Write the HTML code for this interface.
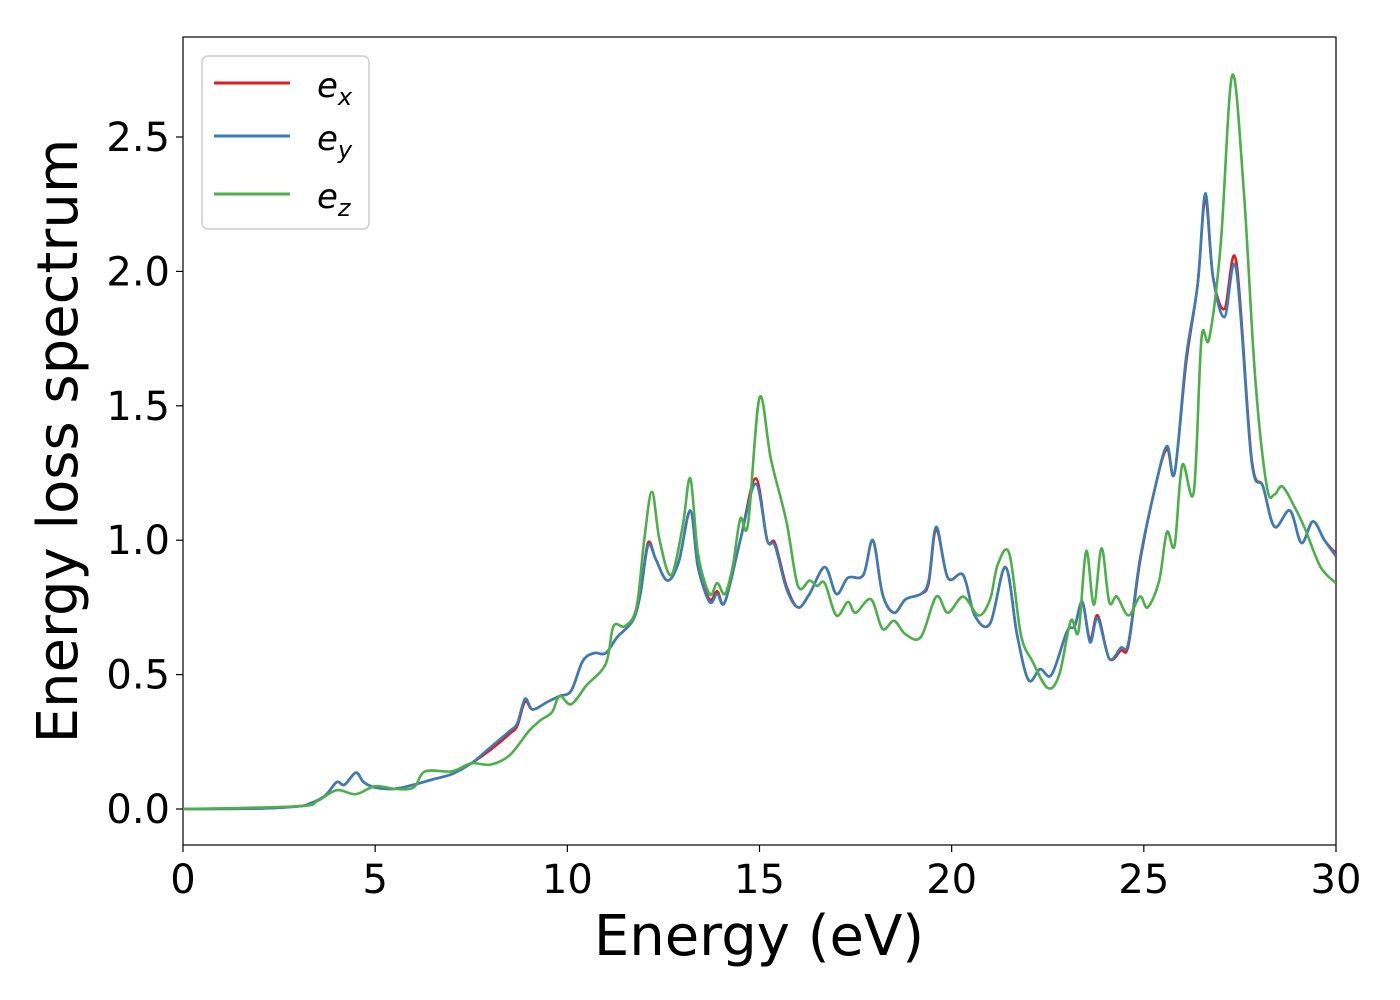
<!DOCTYPE html>
<html><head><meta charset="utf-8"><style>
html,body{margin:0;padding:0;background:#fff;width:1400px;height:1000px;overflow:hidden}
svg{display:block;font-family:"DejaVu Sans","Liberation Sans",sans-serif}
</style></head><body>
<svg id="chart" width="1400" height="1000" xmlns="http://www.w3.org/2000/svg">
<rect x="183" y="37" width="1153" height="808" fill="#fff" stroke="#000" stroke-width="1.2"/>
<g id="series"></g>
<g id="axes"></g>
<text x="759" y="955" font-size="56" text-anchor="middle">Energy (eV)</text>
<text transform="translate(77,441) rotate(-90)" font-size="56" text-anchor="middle">Energy loss spectrum</text>
<g>
<rect x="202" y="56" width="167" height="173" rx="6" fill="#fff" stroke="#ccc" stroke-width="1.5"/>
<line x1="214" y1="83" x2="290" y2="83" stroke="#e41a1c" stroke-width="3"/>
<line x1="214" y1="136" x2="290" y2="136" stroke="#377eb8" stroke-width="3"/>
<line x1="214" y1="194" x2="290" y2="194" stroke="#4daf4a" stroke-width="3"/>
<text x="317" y="97" font-size="34" font-style="italic">e<tspan font-size="24" dy="8">x</tspan></text>
<text x="317" y="150" font-size="34" font-style="italic">e<tspan font-size="24" dy="8">y</tspan></text>
<text x="317" y="208" font-size="34" font-style="italic">e<tspan font-size="24" dy="8">z</tspan></text>
</g>
</svg>
<script>
const xTicks=[0,5,10,15,20,25,30];
const yTicks=[0.0,0.5,1.0,1.5,2.0,2.5];
const eyE=[0,2,3,3.3,3.7,4.0,4.2,4.5,4.7,5,5.5,6,6.5,7,7.5,8,8.5,8.7,8.9,9.1,9.5,9.8,10.1,10.4,10.7,11,11.3,11.7,11.9,12.1,12.3,12.6,12.9,13.2,13.4,13.7,13.9,14.1,14.5,14.9,15.2,15.4,15.7,16.0,16.3,16.7,17.0,17.3,17.7,17.95,18.2,18.5,18.8,19.2,19.4,19.6,19.9,20.3,20.6,21.0,21.4,21.7,22.0,22.3,22.6,23.0,23.2,23.4,23.6,23.8,24.1,24.4,24.6,24.9,25.3,25.6,25.8,26.1,26.4,26.6,26.8,27.1,27.4,27.8,28.1,28.4,28.8,29.1,29.4,29.7,30];
const eyV=[0,0.002,0.01,0.02,0.05,0.1,0.09,0.135,0.1,0.08,0.075,0.09,0.11,0.13,0.17,0.23,0.29,0.32,0.41,0.37,0.4,0.42,0.44,0.55,0.58,0.58,0.64,0.7,0.8,0.98,0.93,0.85,0.92,1.11,0.9,0.77,0.8,0.77,1.0,1.21,1.0,0.98,0.82,0.75,0.8,0.9,0.8,0.86,0.87,1.0,0.8,0.73,0.78,0.8,0.85,1.05,0.86,0.87,0.72,0.69,0.9,0.65,0.48,0.52,0.5,0.66,0.68,0.77,0.62,0.71,0.56,0.6,0.62,0.93,1.2,1.35,1.25,1.68,1.95,2.29,1.98,1.83,2.01,1.3,1.2,1.05,1.11,0.99,1.07,1.0,0.94];
const exV=[0,0.002,0.01,0.02,0.05,0.1,0.09,0.135,0.1,0.08,0.075,0.09,0.11,0.13,0.17,0.22,0.28,0.31,0.4,0.37,0.4,0.42,0.44,0.55,0.58,0.58,0.64,0.7,0.8,0.99,0.93,0.85,0.92,1.11,0.9,0.78,0.81,0.77,1.0,1.23,1.0,0.99,0.83,0.75,0.8,0.9,0.8,0.86,0.87,1.0,0.8,0.73,0.78,0.8,0.84,1.04,0.86,0.87,0.72,0.69,0.9,0.65,0.48,0.52,0.5,0.66,0.68,0.77,0.63,0.72,0.56,0.59,0.61,0.92,1.2,1.34,1.25,1.66,1.95,2.27,1.98,1.86,2.04,1.31,1.2,1.05,1.11,0.99,1.07,1.0,0.95];
const ezE=[0,3,3.5,4,4.5,5,5.5,6,6.3,7,7.5,8,8.5,9,9.3,9.6,9.8,10.1,10.5,11,11.2,11.5,11.8,12.0,12.2,12.4,12.7,13.0,13.2,13.4,13.7,13.9,14.1,14.3,14.5,14.7,15.0,15.3,15.7,16.0,16.3,16.5,16.7,17.0,17.3,17.5,17.9,18.2,18.5,18.8,19.2,19.6,19.9,20.3,20.7,21.0,21.2,21.5,21.8,22.1,22.5,22.8,23.1,23.3,23.5,23.7,23.9,24.1,24.3,24.6,24.9,25.1,25.4,25.6,25.8,26.0,26.3,26.5,26.7,27.0,27.3,27.6,27.9,28.2,28.4,28.6,28.9,29.2,29.6,30];
const ezV=[0,0.01,0.03,0.07,0.055,0.085,0.075,0.08,0.14,0.14,0.17,0.165,0.2,0.29,0.33,0.36,0.42,0.39,0.46,0.54,0.68,0.68,0.75,1.0,1.18,1.0,0.87,1.05,1.23,0.95,0.8,0.84,0.8,0.9,1.08,1.06,1.53,1.3,1.07,0.83,0.85,0.83,0.84,0.72,0.77,0.73,0.78,0.67,0.7,0.65,0.64,0.79,0.73,0.79,0.72,0.78,0.91,0.95,0.65,0.55,0.45,0.5,0.7,0.66,0.96,0.76,0.97,0.77,0.79,0.72,0.79,0.75,0.85,1.03,0.98,1.28,1.18,1.75,1.75,2.1,2.73,2.3,1.6,1.2,1.17,1.2,1.13,1.04,0.9,0.84];

const NS="http://www.w3.org/2000/svg";
const X0=183,X1=1336,Y0=809,Y25=137;
function sx(v){return X0+(v/30)*(X1-X0);}
function sy(v){return Y0-(v/2.5)*(Y0-Y25);}
function pathFor(xs,ys){
  const p=xs.map((x,i)=>[sx(x),sy(ys[i])]);
  let d="M"+p[0][0].toFixed(1)+","+p[0][1].toFixed(1);
  for(let i=0;i<p.length-1;i++){
    const a=p[Math.max(0,i-1)],b=p[i],c=p[i+1],e=p[Math.min(p.length-1,i+2)];
    const c1=[b[0]+(c[0]-a[0])/6,b[1]+(c[1]-a[1])/6],c2=[c[0]-(e[0]-b[0])/6,c[1]-(e[1]-b[1])/6];
    d+=" C"+c1[0].toFixed(1)+","+c1[1].toFixed(1)+" "+c2[0].toFixed(1)+","+c2[1].toFixed(1)+" "+c[0].toFixed(1)+","+c[1].toFixed(1);
  }
  return d;
}
const sg=document.getElementById('series');
const defs=document.createElementNS(NS,'clipPath');defs.setAttribute('id','clip');
const cr=document.createElementNS(NS,'rect');cr.setAttribute('x',183);cr.setAttribute('y',37);cr.setAttribute('width',1153);cr.setAttribute('height',808);
defs.appendChild(cr);document.getElementById('chart').appendChild(defs);
sg.setAttribute('clip-path','url(#clip)');
[[eyE,exV,'#e41a1c','series-ex'],[eyE,eyV,'#377eb8','series-ey'],[ezE,ezV,'#4daf4a','series-ez']].forEach(s=>{
  const p=document.createElementNS(NS,'path');
  p.setAttribute('d',pathFor(s[0],s[1]));
  p.setAttribute('fill','none');p.setAttribute('stroke',s[2]);p.setAttribute('stroke-width','2.6');
  
  
  sg.appendChild(p);
});
const ag=document.getElementById('axes');
xTicks.forEach(t=>{
  const l=document.createElementNS(NS,'line');
  l.setAttribute('x1',sx(t));l.setAttribute('x2',sx(t));l.setAttribute('y1',845);l.setAttribute('y2',852);l.setAttribute('stroke','#000');l.setAttribute('stroke-width','1.2');
  
  
  ag.appendChild(l);
  const tx=document.createElementNS(NS,'text');
  tx.setAttribute('x',sx(t));tx.setAttribute('y',893);tx.setAttribute('font-size','40');tx.setAttribute('text-anchor','middle');
  tx.textContent=String(t);
  
  
  ag.appendChild(tx);
});
yTicks.forEach(t=>{
  const l=document.createElementNS(NS,'line');
  l.setAttribute('x1',176);l.setAttribute('x2',183);l.setAttribute('y1',sy(t));l.setAttribute('y2',sy(t));l.setAttribute('stroke','#000');l.setAttribute('stroke-width','1.2');
  
  
  ag.appendChild(l);
  const tx=document.createElementNS(NS,'text');
  tx.setAttribute('x',170);tx.setAttribute('y',sy(t)+14);tx.setAttribute('font-size','40');tx.setAttribute('text-anchor','end');
  tx.textContent=t.toFixed(1);
  
  
  ag.appendChild(tx);
});
</script>
</body></html>
